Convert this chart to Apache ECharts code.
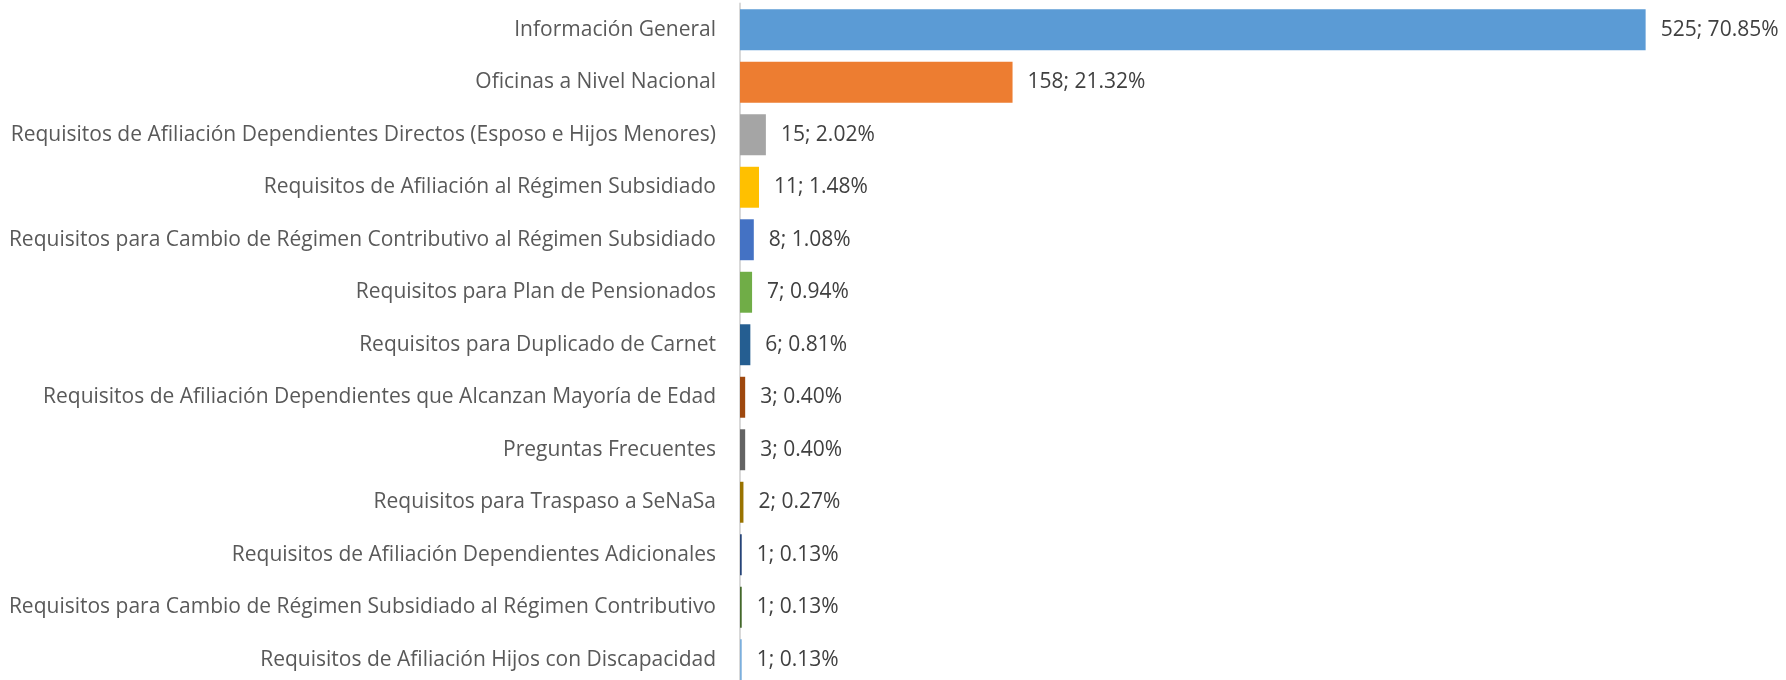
<!DOCTYPE html>
<html>
<head>
<meta charset="utf-8">
<script src="https://cdn.jsdelivr.net/npm/echarts@6/dist/echarts.min.js"></script>
<style>
  html, body { margin: 0; padding: 0; background: #fff; overflow: hidden; }
  #chart { width: 1786px; height: 692px; }
</style>
</head>
<body>
<div id="chart"></div>
<script>
var categories = [
    'Información General',
    'Oficinas a Nivel Nacional',
    'Requisitos de Afiliación Dependientes Directos (Esposo e Hijos Menores)',
    'Requisitos de Afiliación al Régimen Subsidiado',
    'Requisitos para Cambio de Régimen Contributivo al Régimen Subsidiado',
    'Requisitos para Plan de Pensionados',
    'Requisitos para Duplicado de Carnet',
    'Requisitos de Afiliación Dependientes que Alcanzan Mayoría de Edad',
    'Preguntas Frecuentes',
    'Requisitos para Traspaso a SeNaSa',
    'Requisitos de Afiliación Dependientes Adicionales',
    'Requisitos para Cambio de Régimen Subsidiado al Régimen Contributivo',
    'Requisitos de Afiliación Hijos con Discapacidad'
];
var counts = [525, 158, 15, 11, 8, 7, 6, 3, 3, 2, 1, 1, 1];
var percents = ['70.85%', '21.32%', '2.02%', '1.48%', '1.08%', '0.94%', '0.81%',
                '0.40%', '0.40%', '0.27%', '0.13%', '0.13%', '0.13%'];
var colors = ['#5B9BD5', '#ED7D31', '#A5A5A5', '#FFC000', '#4472C4', '#70AD47', '#255E91',
              '#9E480E', '#636363', '#997300', '#264478', '#43682B', '#7CAFDD'];

var chart = echarts.init(document.getElementById('chart'));
var data = [];
for (var i = 0; i < counts.length; i++) {
    data.push({ value: counts[i], itemStyle: { color: colors[i] } });
}
var option = {
    animation: false,
    grid: {
        left: 740,
        right: 11,
        top: 3.5,
        height: 682.5
    },
    xAxis: {
        type: 'value',
        min: 0,
        max: 600,
        show: false
    },
    yAxis: {
        type: 'category',
        inverse: true,
        data: categories,
        axisLine: { lineStyle: { color: '#D9D9D9', width: 2 } },
        axisTick: { show: false },
        axisLabel: {
            color: '#595959',
            fontFamily: 'Open Sans',
            fontSize: 21,
            margin: 24
        }
    },
    series: [{
        type: 'bar',
        data: data,
        barCategoryGap: '22%',
        label: {
            show: true,
            position: 'right',
            distance: 15,
            color: '#404040',
            fontFamily: 'Open Sans',
            fontSize: 21,
            formatter: function (p) {
                return counts[p.dataIndex] + '; ' + percents[p.dataIndex];
            }
        }
    }]
};
chart.setOption(option);
window.onresize = chart.resize;
</script>
</body>
</html>
